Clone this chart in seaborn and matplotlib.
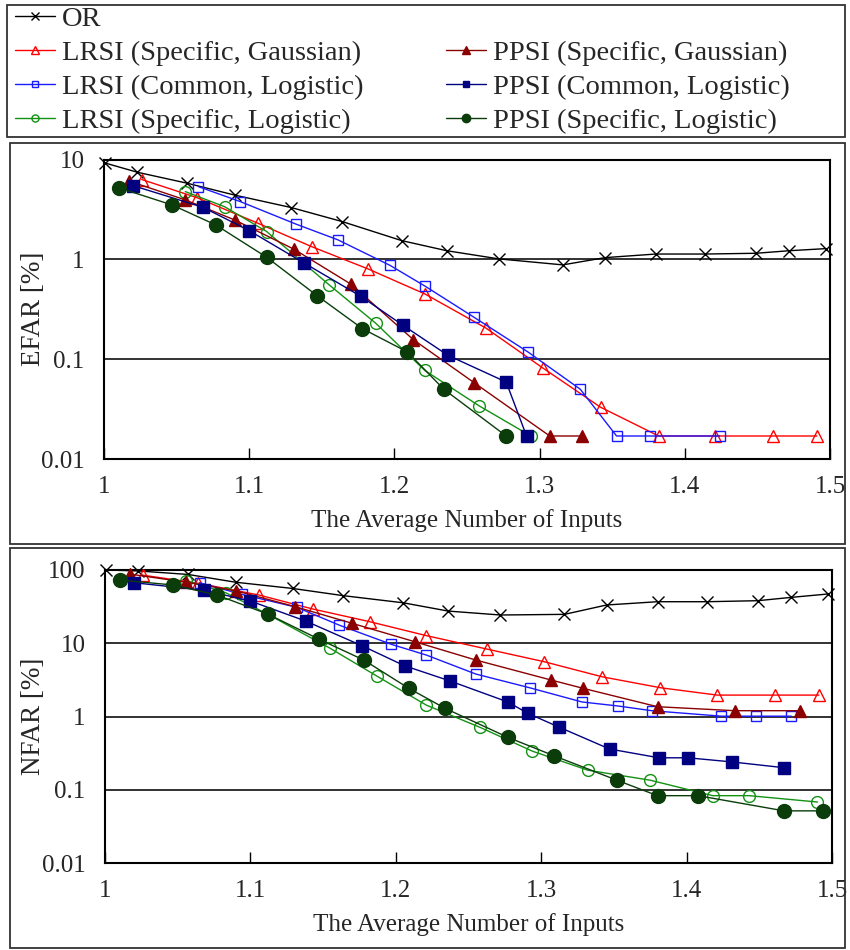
import numpy as np
import pandas as pd
import seaborn as sns
import matplotlib
matplotlib.use("Agg")
import matplotlib.pyplot as plt
from matplotlib.lines import Line2D
from matplotlib.patches import Rectangle

# ---- data: average number of inputs (x) and error rates in percent ----
or_x = [1.001, 1.023, 1.057, 1.090, 1.129, 1.164, 1.205, 1.236, 1.272, 1.316,
        1.345, 1.380, 1.414, 1.449, 1.472, 1.497]
or_efar = [9.2, 7.45, 5.8, 4.4, 3.3, 2.39, 1.54, 1.22, 1.01, 0.88,
           1.04, 1.13, 1.13, 1.15, 1.22, 1.28]
or_nfar = [100, 97, 87, 68, 56, 44.6, 35.7, 27.5, 24.3, 24.8,
           33.3, 36.9, 36.9, 38.1, 42.3, 47]

lrsi_sg_x = [1.026, 1.064, 1.106, 1.143, 1.182, 1.221, 1.263, 1.302, 1.342,
             1.382, 1.421, 1.461, 1.491]
lrsi_sg_efar = [6.3, 4.15, 2.3, 1.34, 0.80, 0.45, 0.205, 0.082, 0.033,
                0.017, 0.017, 0.017, 0.017]
lrsi_sg_nfar = [85, 66, 45.5, 29.3, 19.7, 12.7, 8.3, 5.6, 3.48,
                2.47, 1.96, 1.96, 1.96]

ppsi_sg_x = [1.017, 1.056, 1.090, 1.131, 1.170, 1.213, 1.255, 1.307, 1.329,
             1.380, 1.433, 1.478]
ppsi_sg_efar = [6.1, 3.94, 2.48, 1.26, 0.565, 0.157, 0.058, 0.017, 0.017]
ppsi_sg_nfar = [88, 68, 52, 31.5, 18.7, 10.5, 5.9, 3.14, 2.42,
                1.36, 1.2, 1.2]

lrsi_cl_x = [1.065, 1.094, 1.132, 1.161, 1.197, 1.221, 1.255, 1.292, 1.328,
             1.353, 1.376, 1.424, 1.448, 1.472]
lrsi_cl_efar = [5.35, 3.78, 2.26, 1.57, 0.87, 0.54, 0.262, 0.118, 0.050,
                0.017, 0.017, 0.017]
lrsi_cl_nfar = [67, 46.6, 30.9, 17.7, 9.66, 6.9, 3.8, 2.47, 1.58,
                1.39, 1.2, 1.01, 1.01, 1.01]

ppsi_cl_x = [1.020, 1.068, 1.100, 1.138, 1.177, 1.206, 1.237, 1.277, 1.291,
             1.312, 1.347, 1.381, 1.401, 1.431, 1.467]
ppsi_cl_efar = [5.47, 3.33, 1.94, 0.916, 0.425, 0.218, 0.109, 0.059, 0.017]
ppsi_cl_nfar = [67, 53, 37.7, 20.1, 9.2, 4.93, 3.07, 1.58, 1.1,
                0.72, 0.36, 0.273, 0.273, 0.24, 0.2]

lrsi_sl_x = [1.056, 1.083, 1.112, 1.155, 1.187, 1.221, 1.258, 1.294, 1.332,
             1.375, 1.418, 1.443, 1.490]
lrsi_sl_efar = [4.77, 3.37, 1.90, 0.556, 0.23, 0.077, 0.0343, 0.017]
lrsi_sl_nfar = [71.5, 49, 24.8, 8.5, 3.56, 1.43, 0.71, 0.336, 0.185,
                0.135, 0.083, 0.083, 0.068]

ppsi_sl_x = [1.010, 1.047, 1.077, 1.112, 1.147, 1.178, 1.209, 1.234, 1.277,
             1.309, 1.352, 1.380, 1.408, 1.467, 1.494]
ppsi_sl_efar = [5.22, 3.5, 2.21, 1.05, 0.43, 0.202, 0.118, 0.050, 0.017]
ppsi_sl_nfar = [73, 62.4, 45.5, 25, 11.4, 5.9, 2.42, 1.29, 0.52,
                0.29, 0.135, 0.083, 0.083, 0.0515, 0.0515]

x_ticks = [1.0, 1.1, 1.2, 1.3, 1.4, 1.5]
x_tick_labels = ["1", "1.1", "1.2", "1.3", "1.4", "1.5"]
efar_ticks = [0.01, 0.1, 1, 10]
efar_tick_labels = ["0.01", "0.1", "1", "10"]
nfar_ticks = [0.01, 0.1, 1, 10, 100]
nfar_tick_labels = ["0.01", "0.1", "1", "10", "100"]
x_label = "The Average Number of Inputs"

# ---- styling of each method ----
series = [
    ("OR", or_x, or_efar, or_nfar,
     dict(color="black", marker="x", mfc="black", ms=8.5, mew=1.0)),
    ("LRSI (Specific, Gaussian)", lrsi_sg_x, lrsi_sg_efar, lrsi_sg_nfar,
     dict(color="#ff0000", marker="^", mfc="none", ms=9, mew=1.0)),
    ("LRSI (Common, Logistic)", lrsi_cl_x, lrsi_cl_efar, lrsi_cl_nfar,
     dict(color="#1a1aff", marker="s", mfc="none", ms=7.5, mew=1.0)),
    ("LRSI (Specific, Logistic)", lrsi_sl_x, lrsi_sl_efar, lrsi_sl_nfar,
     dict(color="#139113", marker="o", mfc="none", ms=8.5, mew=1.0)),
    ("PPSI (Specific, Gaussian)", ppsi_sg_x, ppsi_sg_efar, ppsi_sg_nfar,
     dict(color="#8b0000", marker="^", mfc="#8b0000", ms=9, mew=1.0)),
    ("PPSI (Common, Logistic)", ppsi_cl_x, ppsi_cl_efar, ppsi_cl_nfar,
     dict(color="#000080", marker="s", mfc="#000080", ms=8, mew=1.0)),
    ("PPSI (Specific, Logistic)", ppsi_sl_x, ppsi_sl_efar, ppsi_sl_nfar,
     dict(color="#0b3d0b", marker="o", mfc="#0b3d0b", ms=10, mew=1.0)),
]

sns.set_theme(style="white")
plt.rcParams["font.family"] = ["Liberation Serif", "DejaVu Serif"]

W, H = 850, 950
fig = plt.figure(figsize=(W / 100, H / 100), dpi=100)


def fx(px):
    return px / W


def fy(py):
    return 1 - py / H


# panel frames
for (l, t, r, b) in [(7, 5, 845, 137), (10, 143, 845, 544), (10, 548, 845, 948)]:
    fig.patches.append(Rectangle((fx(l), fy(b)), fx(r) - fx(l), fy(t) - fy(b),
                                 transform=fig.transFigure, fill=False,
                                 edgecolor="#333333", linewidth=1.3, zorder=0))

ax_top = fig.add_axes([fx(104), fy(459), fx(830) - fx(104), fy(159.5) - fy(459)])
ax_bot = fig.add_axes([fx(105), fy(863), fx(832) - fx(105), fy(570) - fy(863)])

FS = 18


def draw(ax, key):
    for label, xs, ef, nf, st in series:
        ys = ef if key == "efar" else nf
        n = len(ys)
        sns.lineplot(x=xs[:n], y=ys, ax=ax, sort=False, estimator=None,
                     legend=False, color=st["color"], linewidth=1.0,
                     marker=st["marker"], markersize=st["ms"],
                     markerfacecolor=st["mfc"], markeredgecolor=st["color"],
                     markeredgewidth=st["mew"], label=label, clip_on=False,
                     zorder=3)


def style(ax, ticks, labels, ylabel, ymax, ylabel_x):
    ax.set_yscale("log")
    ax.set_xlim(1.0, 1.5)
    ax.set_ylim(0.01, ymax)
    ax.set_xticks(x_ticks)
    ax.set_xticklabels(x_tick_labels, fontsize=FS)
    ax.set_yticks(ticks)
    ax.set_yticklabels(labels, fontsize=FS)
    ax.yaxis.set_minor_locator(matplotlib.ticker.NullLocator())
    ax.tick_params(axis="x", direction="in", length=8, width=1.0,
                   color="black", pad=12, bottom=True)
    ax.tick_params(axis="y", length=0, pad=14)
    for t in ticks[1:-1]:
        ax.axhline(t, color="#222222", linewidth=1.3, zorder=1)
    for s in ax.spines.values():
        s.set_color("black")
        s.set_linewidth(1.5)
    ax.set_xlabel(x_label, fontsize=FS, labelpad=8)
    ax.set_ylabel(ylabel, fontsize=19.5)
    ax.yaxis.set_label_coords(ylabel_x, 0.5)
    ax.grid(False)


draw(ax_top, "efar")
draw(ax_bot, "nfar")
style(ax_top, efar_ticks, efar_tick_labels, "EFAR [%]", 10, -0.080)
style(ax_bot, nfar_ticks, nfar_tick_labels, "NFAR [%]", 100, -0.081)

# legend: OR alone on the first row, LRSI left column, PPSI right column
handles = []
labels = []
for label, xs, ef, nf, st in series:
    handles.append(Line2D([], [], color=st["color"], linewidth=1.0,
                          marker=st["marker"], markersize=st["ms"] * 0.6,
                          markerfacecolor=st["mfc"],
                          markeredgecolor=st["color"], markeredgewidth=1.0))
    labels.append(label)
blank = Line2D([], [], linestyle="none", marker=None)
order_h = handles[:4] + [blank] + handles[4:]
order_l = labels[:4] + [""] + labels[4:]
LFS = 20.5
fig.legend(order_h, order_l, ncol=2, loc="upper left",
           bbox_to_anchor=(fx(15), fy(6.5)), frameon=False, fontsize=LFS,
           handlelength=1.4, handletextpad=0.25, labelspacing=0.28,
           columnspacing=2.9, borderaxespad=0.0, borderpad=0.0)

fig.savefig("out.png", dpi=100)
